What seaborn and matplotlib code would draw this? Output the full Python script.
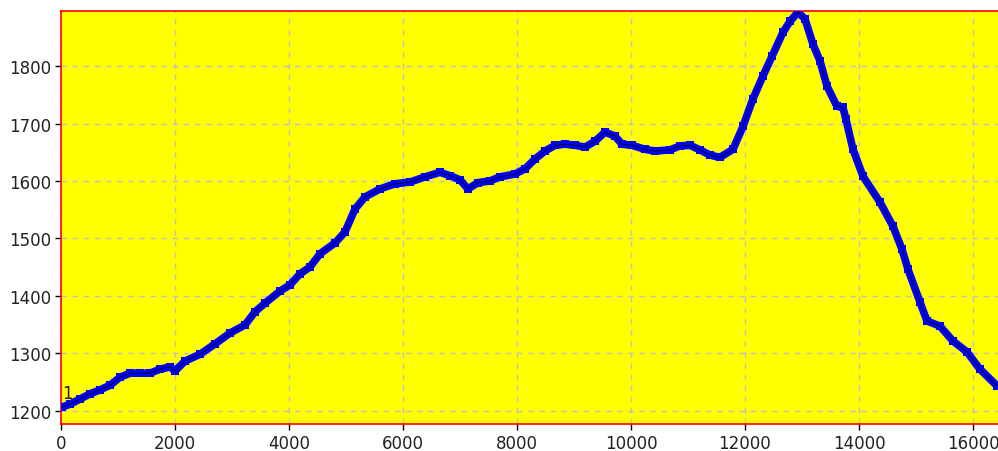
import matplotlib
matplotlib.use("Agg")
import matplotlib.pyplot as plt
import seaborn as sns
import pandas as pd

x_vals = [18, 158, 333, 509, 684, 860, 1035, 1211, 1386, 1561, 1737, 1912, 2000, 2175,
          2439, 2702, 2965, 3228, 3404, 3579, 3842, 4018, 4193, 4368, 4544, 4807, 4982,
          5158, 5333, 5596, 5860, 6123, 6386, 6649, 6825, 7000, 7140, 7316, 7526, 7702,
          7965, 8140, 8316, 8491, 8667, 8842, 9018, 9193, 9368, 9544, 9719, 9842, 10018,
          10246, 10421, 10684, 10860, 11035, 11211, 11386, 11561, 11789, 11965, 12140,
          12316, 12474, 12667, 12790, 12930, 13053, 13193, 13316, 13439, 13614, 13719,
          13772, 13895, 14070, 14368, 14596, 14754, 14860, 15070, 15193, 15421, 15649,
          15895, 16123, 16421]
y_vals = [1206, 1211, 1220, 1229, 1236, 1244, 1258, 1265, 1265, 1265, 1272, 1276, 1269, 1286,
          1298, 1316, 1335, 1349, 1372, 1387, 1408, 1419, 1438, 1450, 1473, 1492, 1511,
          1551, 1572, 1586, 1595, 1598, 1607, 1615, 1609, 1602, 1586, 1597, 1600, 1607,
          1612, 1621, 1638, 1652, 1662, 1664, 1662, 1659, 1669, 1685, 1678, 1664, 1662,
          1655, 1652, 1654, 1661, 1662, 1654, 1645, 1641, 1655, 1695, 1743,
          1783, 1817, 1859, 1878, 1894, 1882, 1838, 1809, 1765, 1730, 1728,
          1707, 1655, 1608, 1563, 1521, 1481, 1446, 1389, 1356, 1347, 1321,
          1302, 1272, 1243]
x_ticks = [0, 2000, 4000, 6000, 8000, 10000, 12000, 14000, 16000]
y_ticks = [1200, 1300, 1400, 1500, 1600, 1700, 1800]
series_label = "1"

df = pd.DataFrame({"x": x_vals, "y": y_vals})

sns.set_style("ticks")
plt.rcParams["font.family"] = ["DejaVu Sans"]

fig = plt.figure(figsize=(9.98, 4.52), dpi=100)
ax = fig.add_axes([61 / 998, 1 - 425 / 452, 1 - 61 / 998 + 0.02, (425 - 12) / 452])
ax.set_facecolor("#ffff00")

sns.lineplot(data=df, x="x", y="y", sort=False, color="#0000ff", linewidth=5.5,
             marker="s", markersize=6, markeredgewidth=0, ax=ax, zorder=3)
sns.lineplot(data=df, x="x", y="y", sort=False, color="black", linewidth=0.6,
             ax=ax, zorder=4)

ax.text(x_vals[0], y_vals[0] + 8, series_label, fontsize=12, color="#222222",
        ha="left", va="bottom", zorder=5)

ax.set_xlim(0, 16439 + 0.02 * 998 * 17.544)
ax.set_ylim(1176.5, 1896)
ax.set_xticks(x_ticks)
ax.set_xticklabels([str(t) for t in x_ticks])
ax.set_yticks(y_ticks)
ax.set_yticklabels([str(t) for t in y_ticks])
ax.set_xlabel("")
ax.set_ylabel("")

ax.grid(True, color="#c0c0c0", linestyle=(0, (4, 4)), linewidth=1.0, zorder=1)
ax.set_axisbelow(True)

for s in ["left", "top", "bottom"]:
    ax.spines[s].set_color("red")
    ax.spines[s].set_linewidth(1.2)
ax.spines["right"].set_visible(False)

ax.tick_params(axis="both", direction="out", length=4, width=1, color="black",
               labelsize=12, labelcolor="#222222", pad=3)

fig.savefig("out.png", dpi=100, facecolor="white")
